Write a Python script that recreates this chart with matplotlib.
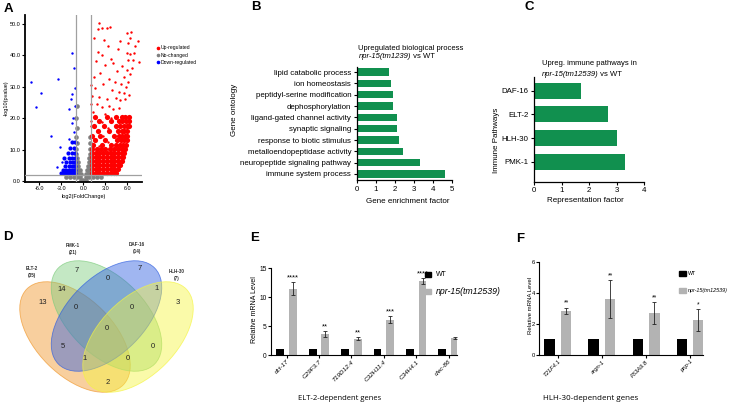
import matplotlib
matplotlib.use('Agg')
import numpy as np
import matplotlib.pyplot as plt
from matplotlib.patches import Ellipse, Rectangle
from matplotlib.lines import Line2D

plt.rcParams['font.family'] = ['Liberation Sans', 'DejaVu Sans']
plt.rcParams['axes.unicode_minus'] = False

W, H = 731, 403

# ---------------- data ----------------
# A: volcano plot (row y -> list of x)
up_rows = {
    2.5: [1.2, 1.7, 2.2, 2.7, 3.2, 3.7, 4.2, 4.5],
    3.8: [1.2, 1.7, 2.2, 2.7, 3.2, 3.7, 4.2, 4.7],
    5.1: [1.2, 1.7, 2.2, 2.7, 3.2, 3.7, 4.2, 4.7, 5.0],
    6.4: [1.2, 1.7, 2.2, 2.7, 3.2, 3.7, 4.2, 4.7, 5.2],
    7.7: [1.2, 1.7, 2.2, 2.7, 3.2, 3.7, 4.2, 4.7, 5.2, 5.4],
    9.0: [1.2, 1.7, 2.2, 2.7, 3.2, 3.7, 4.2, 4.7, 5.2, 5.6],
    10.3: [1.2, 1.8, 2.4, 3.0, 3.6, 4.2, 4.7, 5.2, 5.7],
    11.6: [1.3, 2.5, 3.8, 4.5, 5.0, 5.4, 5.8],
    13.0: [1.6, 3.0, 4.6, 5.1, 5.5, 5.9],
    14.5: [1.2, 2.3, 4.2, 4.8, 5.3, 5.7, 6.0],
    16.0: [2.0, 3.5, 4.7, 5.2, 5.6, 6.0],
    17.5: [1.4, 2.8, 4.4, 5.0, 5.5, 5.9, 6.2],
    19.0: [2.2, 3.8, 4.8, 5.3, 5.8, 6.2],
    20.5: [1.6, 3.2, 4.5, 5.2, 5.7, 6.2],
}
up_sparse = [(2.2, 50.4), (2.0, 48.3), (2.5, 48.6), (3.2, 48.9), (3.6, 49.1), (6.45, 47.5),
             (6.0, 47.2), (7.45, 44.6), (6.1, 43.9), (6.0, 40.7), (6.4, 40.4), (6.9, 40.9),
             (7.6, 37.8), (6.8, 38.5), (6.05, 38.5), (4.7, 42.0), (2.0, 41.2), (2.6, 40.3),
             (3.3, 43.0), (1.7, 38.2), (2.9, 37.0), (3.7, 39.0), (5.3, 36.5), (5.9, 35.5),
             (6.3, 34.0), (5.6, 33.0), (2.3, 34.5), (1.4, 33.0), (3.5, 32.5), (4.3, 31.5),
             (5.1, 31.0), (6.1, 31.5), (5.8, 30.0), (2.7, 30.8), (1.6, 29.5), (3.9, 29.0),
             (4.8, 28.5), (5.5, 28.0), (6.2, 27.5), (1.2, 27.0), (2.1, 26.8), (3.2, 26.2),
             (4.4, 26.5), (5.0, 25.8), (5.7, 26.0), (1.8, 24.5), (2.6, 23.5), (3.5, 24.0),
             (4.0, 22.8), (4.9, 23.2), (1.3, 22.0), (2.9, 21.5), (3.7, 20.0), (1.1, 19.0),
             (2.5, 18.8), (3.3, 17.0), (1.9, 16.0), (2.7, 14.2), (3.4, 12.5), (1.5, 13.4),
             (2.1, 11.2), (1.0, 17.5), (1.05, 24.5), (1.1, 30.5), (4.6, 35.0), (4.1, 37.5),
             (5.0, 44.5), (1.5, 45.5), (2.8, 45.0), (6.6, 36.0), (6.3, 45.5), (7.0, 43.0)]
nc_rows = {
    0.4: [-0.3, 0.0, 0.3],
    1.2: [-2.4, -1.8, -1.3, -0.8, -0.4, 0.4, 0.8, 1.3, 1.8, 2.4],
    2.4: [-0.9, -0.6, -0.3, 0.3, 0.6, 0.9],
    3.6: [-0.95, -0.7, -0.45, 0.45, 0.7, 0.95],
    4.8: [-0.95, -0.7, 0.7, 0.95],
    6.0: [-0.95, -0.75, 0.75, 0.95],
    7.3: [-0.95, -0.8, 0.8, 0.95],
    8.7: [-0.95, 0.9],
    10.2: [-0.95, 0.95],
    12.0: [-0.9, 0.95],
    14.0: [-0.95, 0.9],
    17.0: [-0.9],
    20.0: [-0.95],
    24.0: [-0.9],
}
down_rows = {
    2.5: [-3.0, -2.6, -2.2, -1.9, -1.6, -1.3, -1.1],
    3.6: [-2.8, -2.4, -2.0, -1.7, -1.4, -1.15],
    4.8: [-2.5, -2.0, -1.6, -1.3, -1.1],
    6.1: [-2.3, -1.8, -1.4, -1.15],
    7.5: [-2.6, -1.9, -1.5, -1.2],
    9.0: [-2.1, -1.6, -1.2],
    10.5: [-1.8, -1.3],
    12.5: [-1.5, -1.15],
}
down_sparse = [(-7.1, 31.6), (-5.8, 28.1), (-6.4, 23.6), (-3.4, 32.4), (-4.4, 14.3), (-3.2, 10.9),
               (-1.5, 40.7), (-1.3, 35.9), (-1.5, 27.7), (-1.75, 26.0), (-1.9, 22.8), (-1.4, 20.0),
               (-1.2, 24.0), (-1.6, 18.5), (-3.6, 4.5), (-2.9, 6.0), (-1.3, 15.5), (-2.0, 13.5),
               (-1.1, 29.5)]

# B: GO enrichment
go_terms = ['lipid catabolic process', 'ion homeostasis', 'peptidyl-serine modification',
            'dephosphorylation', 'ligand-gated channel activity', 'synaptic signaling',
            'response to biotic stimulus', 'metalloendopeptidase activity',
            'neuropeptide signaling pathway', 'immune system process']
go_factor = [1.7, 1.8, 1.9, 1.9, 2.1, 2.1, 2.2, 2.4, 3.3, 4.6]

# C: immune pathways
pathways = ['DAF-16', 'ELT-2', 'HLH-30', 'PMK-1']
rep_factor = [1.7, 2.7, 3.0, 3.3]

# D: Venn counts
venn_sets = ['ELT-2', 'PMK-1', 'DAF-16', 'HLH-30']
venn_totals = [35, 21, 14, 7]
venn_regions = ['E', 'P', 'D', 'H', 'EP', 'PD', 'DH', 'EPD', 'PDH', 'EPDH', 'ED', 'PH', 'EDH', 'EPH', 'EH']
venn_counts = [13, 7, 7, 3, 14, 0, 1, 0, 0, 0, 5, 0, 1, 0, 2]

# E: ELT-2-dependent genes
e_genes = ['dct-17', 'C29F3.7', 'T19D12.4', 'C32H11.4', 'C34H4.1', 'clec-86']
e_wt = [1, 1, 1, 1, 1, 1]
e_mut = [11.5, 3.6, 2.85, 6.1, 12.8, 2.95]
e_err = [1.2, 0.5, 0.25, 0.65, 0.6, 0.1]
e_sig = ['****', '**', '**', '***', '****', '']

# F: HLH-30-dependent genes
f_genes = ['T21F4.1', 'argn-1', 'F53A9.8', 'pnp-1']
f_wt = [1, 1, 1, 1]
f_mut = [2.85, 3.6, 2.7, 2.25]
f_err = [0.2, 1.2, 0.68, 0.7]
f_sig = ['**', '**', '**', '*']

GREEN = '#11904f'
GREY = '#b3b3b3'

fig = plt.figure(figsize=(W / 100, H / 100), dpi=100)


def box(l, t, r, b):
    return [l / W, 1 - b / H, (r - l) / W, (b - t) / H]


def ftext(x, y, s, **kw):
    return fig.text(x / W, 1 - y / H, s, **kw)


def square(cx, cy, w, h, color):
    fig.patches.append(Rectangle(((cx - w / 2) / W, 1 - (cy + h / 2) / H), w / W, h / H,
                                 transform=fig.transFigure, color=color))


def rows_to_xy(rows):
    xs, ys = [], []
    for y, xl in rows.items():
        xs += xl
        ys += [y] * len(xl)
    return xs, ys


def style(ax, lw=0.9):
    for s in ['top', 'right']:
        ax.spines[s].set_visible(False)
    for s in ['left', 'bottom']:
        ax.spines[s].set_linewidth(lw)
    ax.tick_params(length=2.5, width=0.8, pad=1.5)


# ---------------- A ----------------
axA = fig.add_axes(box(25, 15, 141.7, 182.3))
style(axA, 1.3)
gx, gy = rows_to_xy(nc_rows)
ux, uy = rows_to_xy(up_rows)
dx, dy = rows_to_xy(down_rows)
axA.scatter(gx, gy, s=11, c='#808080', lw=0, zorder=2)
axA.scatter(ux, uy, s=14, c='#ff0000', lw=0, zorder=2)
axA.scatter([p[0] for p in up_sparse], [p[1] for p in up_sparse], s=3, c='#ff0000', lw=0, zorder=2)
axA.scatter(dx, dy, s=9, c='#0000ff', lw=0, zorder=2)
axA.scatter([p[0] for p in down_sparse], [p[1] for p in down_sparse], s=3, c='#0000ff', lw=0, zorder=2)
for v in [-1, 1]:
    axA.axvline(v, color='#a0a0a0', lw=0.9, zorder=3)
axA.axhline(2, color='#a0a0a0', lw=0.9, zorder=3)
axA.set_xlim(-7.95, 7.95)
axA.set_ylim(-0.4, 52.9)
axA.set_xticks([-6, -3, 0, 3, 6])
axA.set_xticklabels(['-6.0', '-3.0', '0.0', '3.0', '6.0'], fontsize=4)
axA.set_yticks([0, 10, 20, 30, 40, 50])
axA.set_yticklabels(['0.0', '10.0', '20.0', '30.0', '40.0', '50.0'], fontsize=4)
axA.tick_params(length=2, width=0.8, pad=1)
axA.set_xlabel('log2(FoldChange)', fontsize=4, labelpad=1.5)
axA.set_ylabel('-log10(pvalue)', fontsize=4, labelpad=1)
handles = [Line2D([], [], marker='o', ls='', color=c, markersize=1.6)
           for c in ['#ff0000', '#808080', '#0000ff']]
axA.legend(handles, ['Up-regulated', 'No-changed', 'Down-regulated'], loc='upper left',
           bbox_to_anchor=(1.1, 0.83), frameon=False, fontsize=3.6, handletextpad=0.1,
           labelspacing=0.45, borderaxespad=0, handlelength=1)

# ---------------- B ----------------
axB = fig.add_axes(box(356.7, 66.7, 452.3, 180))
style(axB)
axB.barh(np.arange(len(go_terms)), go_factor, height=0.65, color=GREEN)
axB.set_xlim(0, 5)
axB.set_ylim(9.53, -0.47)
axB.set_yticks(np.arange(len(go_terms)))
axB.set_yticklabels(go_terms, fontsize=5.7)
axB.set_xticks(range(6))
axB.tick_params(axis='x', labelsize=5.7)
ftext(408, 202, 'Gene enrichment factor', fontsize=5.8, ha='center', va='center')
ftext(235, 110, 'Gene ontology', fontsize=5.8, ha='center', va='center', rotation=90)
ftext(358.3, 48, 'Upregulated biological process', fontsize=5.5, va='center')
t = ftext(359, 56.5, 'npr-15(tm1239)', fontsize=5.5, va='center', style='italic')
axB.annotate(' vs WT', xy=(1, 0), xycoords=t, fontsize=5.5, va='bottom')

# ---------------- C ----------------
axC = fig.add_axes(box(534.3, 76.7, 644, 181.7))
style(axC)
axC.barh(np.arange(len(pathways)), rep_factor, height=0.675, color=GREEN)
axC.set_xlim(0, 4)
axC.set_ylim(3.84, -0.59)
axC.set_yticks(np.arange(len(pathways)))
axC.set_yticklabels(pathways, fontsize=5.7)
axC.set_xticks(range(5))
axC.tick_params(axis='x', labelsize=5.7)
ftext(585, 200, 'Representation factor', fontsize=5.8, ha='center', va='center')
ftext(497, 140, 'Immune Pathways', fontsize=5.8, ha='center', va='center', rotation=90)
ftext(541.7, 63.3, 'Upreg. immune pathways in', fontsize=5.5, va='center')
t = ftext(541.7, 74.5, 'npr-15(tm12539)', fontsize=5.5, va='center', style='italic')
axC.annotate(' vs WT', xy=(1, 0), xycoords=t, fontsize=5.5, va='bottom')

# ---------------- D ----------------
axD = fig.add_axes([0, 0, 240 / W, (403 - 230) / H])
axD.set_xlim(0, 240)
axD.set_ylim(403, 230)
axD.axis('off')
ell = {
    'ELT-2': ((75, 337), 45, (0.94, 0.59, 0.16)),
    'PMK-1': ((106.5, 316), 45, (0.49, 0.80, 0.49)),
    'DAF-16': ((106.5, 316), -45, (0.18, 0.37, 0.88)),
    'HLH-30': ((138, 337), -45, (0.96, 0.96, 0.25)),
}
for name in venn_sets:
    c, ang, col = ell[name]
    axD.add_patch(Ellipse(c, 136, 77, angle=ang, fc=col + (0.45,), ec=col + (0.7,), lw=0.6))
region_pos = {'E': (43, 302), 'P': (77, 270), 'D': (140, 268), 'H': (178, 302),
              'EP': (62, 289), 'PD': (108, 278), 'DH': (157, 288), 'EPD': (76, 307),
              'PDH': (132, 307), 'EPDH': (107, 328), 'ED': (63, 346), 'PH': (153, 346),
              'EDH': (85, 358), 'EPH': (128, 358), 'EH': (108, 382)}
for r, n in zip(venn_regions, venn_counts):
    x, y = region_pos[r]
    axD.text(x, y, str(n), fontsize=5.5, ha='center', va='center', color='#222222')
label_pos = [(32, 272), (73, 249), (137, 248), (177, 275)]
for (x, y), name, tot in zip(label_pos, venn_sets, venn_totals):
    axD.text(x, y, f'{name}\n({tot})', fontsize=3.3, ha='center', va='center',
             fontweight='bold', color='#333333', linespacing=1.3)

# ---------------- E ----------------
axE = fig.add_axes(box(270.7, 268.3, 457, 355))
style(axE, 0.8)
xe = np.arange(len(e_genes))
axE.bar(xe - 0.196, e_wt, 0.24, color='black')
axE.bar(xe + 0.196, e_mut, 0.24, color=GREY, yerr=e_err, capsize=1.6,
        error_kw=dict(lw=0.6, capthick=0.6, ecolor='#222222'))
for xi, m, er, s in zip(xe, e_mut, e_err, e_sig):
    axE.text(xi + 0.196, m + er + 0.1, s, ha='center', va='bottom', fontsize=5.5)
axE.set_xlim(-0.49, 5.26)
axE.set_ylim(0, 15)
axE.set_yticks([0, 5, 10, 15])
axE.set_xticks(xe)
axE.set_xticklabels(e_genes, rotation=45, ha='right', rotation_mode='anchor',
                    fontsize=4.6, style='italic')
axE.tick_params(length=2, width=0.8, pad=1, labelsize=4.8)
axE.tick_params(axis='x', labelsize=4.6)
ftext(255, 310, 'Relative mRNA Level', fontsize=5, rotation=90, ha='center', va='center')
ftext(340, 398, 'ELT-2-dependent genes', fontsize=5.5, ha='center', va='center', family='Open Sans')
square(428.3, 274.3, 6, 5.5, 'black')
square(428.3, 291.7, 6, 5.5, GREY)
ftext(436, 274.3, 'WT', fontsize=5, va='center')
ftext(436, 291.7, 'npr-15(tm12539)', fontsize=6.3, va='center', style='italic')

# ---------------- F ----------------
axF = fig.add_axes(box(539.3, 261.7, 703, 355))
style(axF, 0.8)
xf = np.arange(len(f_genes))
axF.bar(xf - 0.185, f_wt, 0.24, color='black')
axF.bar(xf + 0.185, f_mut, 0.24, color=GREY, yerr=f_err, capsize=1.6,
        error_kw=dict(lw=0.6, capthick=0.6, ecolor='#222222'))
for xi, m, er, s in zip(xf, f_mut, f_err, f_sig):
    axF.text(xi + 0.185, m + er + 0.05, s, ha='center', va='bottom', fontsize=4.8)
axF.set_xlim(-0.42, 3.29)
axF.set_ylim(0, 6)
axF.set_yticks([0, 2, 4, 6])
axF.set_xticks(xf)
axF.set_xticklabels(f_genes, rotation=45, ha='right', rotation_mode='anchor', style='italic')
axF.tick_params(length=2, width=0.8, pad=1, labelsize=4.2)
ftext(530, 305, 'Relative mRNA Level', fontsize=4.3, rotation=90, ha='center', va='center')
ftext(591, 399, 'HLH-30-dependent genes', fontsize=5.8, ha='center', va='center', family='Open Sans')
square(682.7, 273.3, 6.7, 5, 'black')
square(682.7, 290.7, 6.7, 5, GREY)
ftext(688, 273.3, 'WT', fontsize=3.8, va='center')
ftext(688, 290.7, 'npr-15(tm12539)', fontsize=3.9, va='center', style='italic')

# panel letters
for x, y, s in [(8, 8.5, 'A'), (256, 7.5, 'B'), (529, 7.5, 'C'),
                (8, 237, 'D'), (255, 238, 'E'), (520, 238.5, 'F')]:
    ftext(x, y, s, fontsize=9.5, fontweight='bold', ha='center', va='center')

fig.savefig('out.png', dpi=100)
